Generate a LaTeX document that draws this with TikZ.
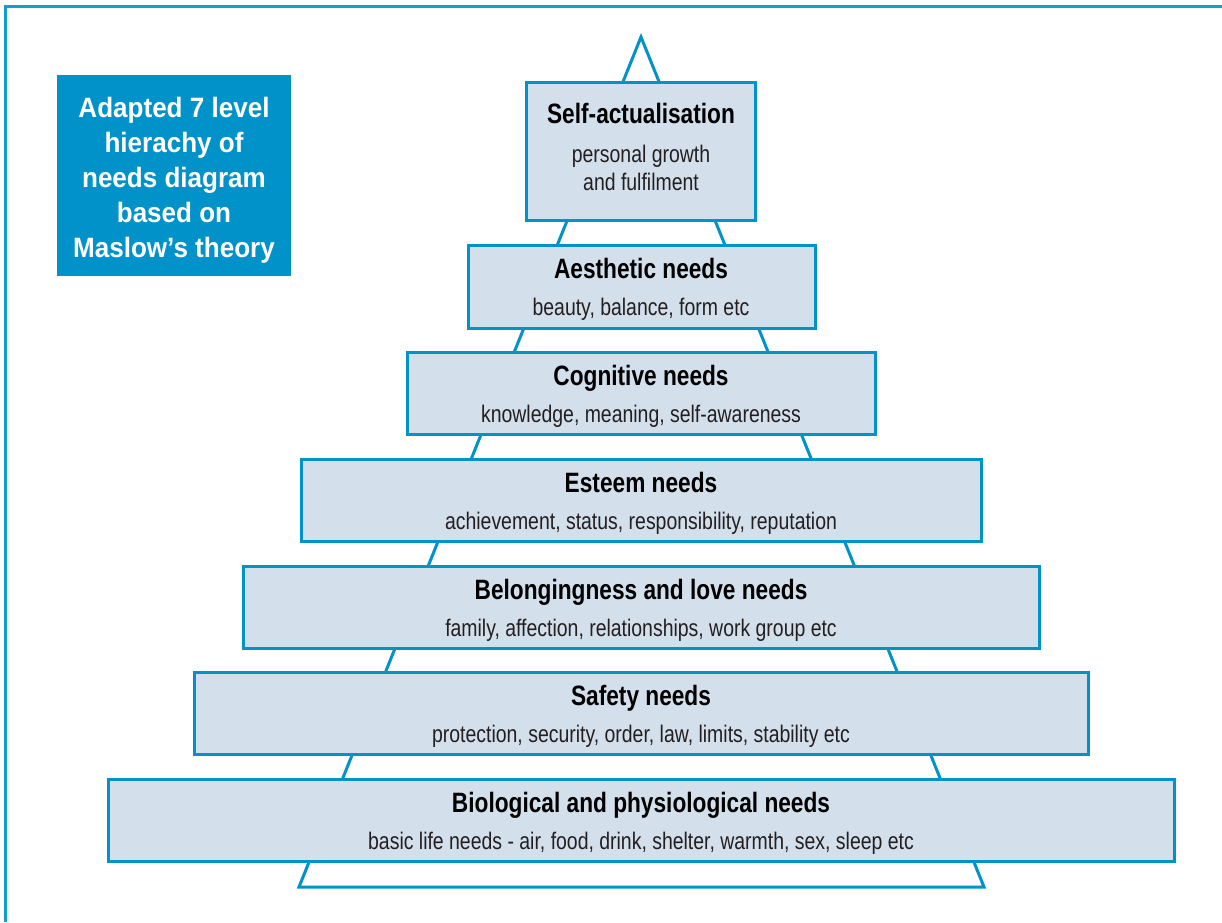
\documentclass[tikz,border=0pt]{standalone}
\usepackage{fontspec}
\setmainfont{Liberation Sans}[FakeStretch=0.81]
\newfontfamily\headfont{Liberation Sans}[FakeStretch=0.93]
\definecolor{mblue}{RGB}{0,146,200}
\definecolor{frameblue}{RGB}{20,158,208}
\definecolor{mfill}{RGB}{211,224,236}
\definecolor{mtext}{RGB}{35,31,32}
\begin{document}
\begin{tikzpicture}[x=1pt,y=-1pt,
  levelbox/.style={draw=mblue, line width=3pt, fill=mfill, rectangle, inner sep=0pt},
  headtxt/.style={anchor=base, inner sep=0pt, font=\fontsize{28}{34}\selectfont\bfseries, text=black},
  subtxt/.style={anchor=base, inner sep=0pt, font=\fontsize{24}{28}\selectfont, text=mtext},
  titletxt/.style={anchor=base, inner sep=0pt, font=\headfont\fontsize{28}{34}\selectfont\bfseries, text=white},
  outline/.style={draw=mblue, line width=3pt}]
\useasboundingbox (0,0) rectangle (1222,922);
% outer frame
\coordinate (f1) at (5,922);
\coordinate (f2) at (5,6);
\coordinate (f3) at (1222,6);
\draw[frameblue, line width=3pt] (f1) -- (f2) -- (f3);
% triangle
\coordinate (apex) at (641,37);
\coordinate (bl) at (299,887);
\coordinate (br) at (984,887);
\draw[outline, fill=white, line join=miter] (apex) -- (bl) -- (br) -- cycle;
% title box
\node[fill=mblue, minimum width=234pt, minimum height=201pt, inner sep=0pt] (title) at (174,175.5) {};
\node[titletxt] (t1) at (174,117) {Adapted 7 level};
\node[titletxt] (t2) at (174,152) {hierachy of};
\node[titletxt] (t3) at (174,187) {needs diagram};
\node[titletxt] (t4) at (174,222) {based on};
\node[titletxt] (t5) at (174,257) {Maslow’s theory};
% levels
\node[levelbox, minimum width=229pt, minimum height=138pt] (self) at (641,151.5) {};
\node[headtxt] (selfh) at (641,123) {Self-actualisation};
\node[subtxt] (selfs1) at (641,162) {personal growth};
\node[subtxt] (selfs2) at (641,190) {and fulfilment};

\node[levelbox, minimum width=347pt, minimum height=83pt] (aes) at (642,287) {};
\node[headtxt] (aesh) at (641,278) {Aesthetic needs};
\node[subtxt] (aess) at (641,315) {beauty, balance, form etc};

\node[levelbox, minimum width=468pt, minimum height=82pt] (cog) at (641.5,393.5) {};
\node[headtxt] (cogh) at (641,385) {Cognitive needs};
\node[subtxt] (cogs) at (641,422) {knowledge, meaning, self-awareness};

\node[levelbox, minimum width=680pt, minimum height=82pt] (est) at (641.5,500.5) {};
\node[headtxt] (esth) at (641,492) {Esteem needs};
\node[subtxt] (ests) at (641,529) {achievement, status, responsibility, reputation};

\node[levelbox, minimum width=796pt, minimum height=82pt] (bel) at (641.5,607.5) {};
\node[headtxt] (belh) at (641,599) {Belongingness and love needs};
\node[subtxt] (bels) at (641,636) {family, affection, relationships, work group etc};

\node[levelbox, minimum width=894pt, minimum height=82pt] (saf) at (641.5,713.5) {};
\node[headtxt] (safh) at (641,705) {Safety needs};
\node[subtxt] (safs) at (641,742) {protection, security, order, law, limits, stability etc};

\node[levelbox, minimum width=1066pt, minimum height=82pt] (bio) at (641.5,820.5) {};
\node[headtxt] (bioh) at (641,812) {Biological and physiological needs};
\node[subtxt] (bios) at (641,849) {basic life needs - air, food, drink, shelter, warmth, sex, sleep etc};
\end{tikzpicture}
\end{document}
